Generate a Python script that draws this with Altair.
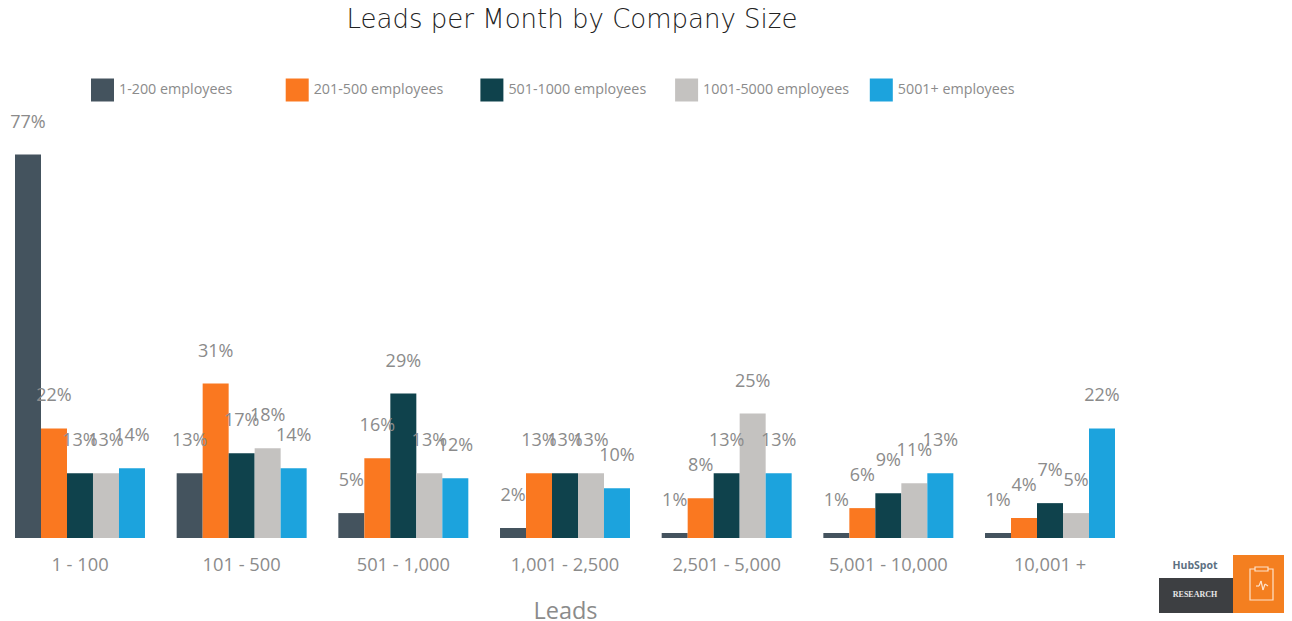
import altair as alt
import pandas as pd

categories = ["1 - 100", "101 - 500", "501 - 1,000", "1,001 - 2,500", "2,501 - 5,000", "5,001 - 10,000", "10,001 +"]
sizes = ["1-200 employees", "201-500 employees", "501-1000 employees", "1001-5000 employees", "5001+ employees"]
colors = ["#44535e", "#fa7820", "#0f424c", "#c4c2c0", "#1ca3dd"]
s1 = [77, 13, 5, 2, 1, 1, 1]
s2 = [22, 31, 16, 13, 8, 6, 4]
s3 = [13, 17, 29, 13, 13, 9, 7]
s4 = [13, 18, 13, 13, 25, 11, 5]
s5 = [14, 14, 12, 10, 13, 13, 22]

rows = []
for name, vals in zip(sizes, [s1, s2, s3, s4, s5]):
    for c, v in zip(categories, vals):
        rows.append({"Leads": c, "Size": name, "Pct": v, "Label": f"{v}%"})
df = pd.DataFrame(rows)

FONT = "Open Sans"
GRAY = "#8b8b8b"
OX, OY = 8, 38   # plot origin on the page
W, H = 1276, 500

x = alt.X("Leads:N", sort=categories,
          scale=alt.Scale(range=[7, 1107], paddingInner=0.196, paddingOuter=0),
          axis=alt.Axis(title="Leads", domain=False, ticks=False, labelAngle=0, labelFont=FONT,
                        labelFontSize=18.3, labelColor=GRAY, labelPadding=18,
                        titleFont=FONT, titleFontSize=23.5, titleFontWeight="normal",
                        titleColor=GRAY, titlePadding=26))
xo = alt.XOffset("Size:N", sort=sizes)
y = alt.Y("Pct:Q", scale=alt.Scale(domain=[0, H / 4.98], nice=False), axis=None)

bars = alt.Chart(df).mark_bar(cornerRadius=0).encode(
    x=x, xOffset=xo, y=y,
    color=alt.Color("Size:N", sort=sizes,
                    scale=alt.Scale(domain=sizes, range=colors),
                    legend=alt.Legend(title=None, orient="none", legendX=83, legendY=40.5,
                                      columns=5, gridAlign="all", columnPadding=20.7,
                                      symbolType="square", symbolSize=529, symbolStrokeWidth=0,
                                      symbolOpacity=1, labelFont=FONT, labelFontSize=14.3,
                                      labelColor=GRAY, labelOffset=5, labelLimit=200)),
)
labels = alt.Chart(df).mark_text(font=FONT, fontSize=18, color=GRAY, baseline="middle", dy=-32).encode(
    x=x, xOffset=xo, y=y, text="Label:N",
)

one = pd.DataFrame({"k": [0]})

def box(x0, x1, y0, y1, **kw):
    return alt.Chart(one).mark_rect(**kw).encode(
        x=alt.value(x0 - OX), x2=alt.value(x1 - OX), y=alt.value(y0 - OY), y2=alt.value(y1 - OY))

def seg(x0, y0, x1, y1):
    return alt.Chart(one).mark_rule(color="#fde3cc", strokeWidth=1.2).encode(
        x=alt.value(x0 - OX), x2=alt.value(x1 - OX), y=alt.value(y0 - OY), y2=alt.value(y1 - OY))

def word(t, px, py, **kw):
    return alt.Chart(one).mark_text(text=t, align="center", baseline="middle", **kw).encode(
        x=alt.value(px - OX), y=alt.value(py - OY))

logo = [
    box(1233, 1290, 555, 613, color="#f47f20"),
    box(1159, 1233, 578, 613, color="#3d3f42"),
    box(1250, 1273, 569, 600, fill="transparent", stroke="#fde3cc", strokeWidth=1.2),
    box(1255, 1268, 567, 571, color="#f47f20", stroke="#fde3cc", strokeWidth=1.2),
    seg(1256, 586, 1259, 586), seg(1259, 586, 1261, 581), seg(1261, 581, 1263, 590),
    seg(1263, 590, 1265, 584), seg(1265, 584, 1268, 586),
    word("HubSpot", 1195, 566, font="Open Sans", fontSize=10.5, fontWeight="bold", color="#5d7082"),
    word("RESEARCH", 1195, 595, font="Liberation Serif", fontSize=8, fontWeight="bold", color="#e8e8e8"),
]

chart = alt.layer(bars, labels, *logo).properties(
    width=W, height=H,
    autosize=alt.AutoSizeParams(type="none"),
    padding={"left": 0, "top": 30, "right": 0, "bottom": 92},
    title=alt.TitleParams("Leads per Month by Company Size", font="DejaVu Sans", fontSize=26,
                          fontWeight=200, color="#222222", anchor="middle", dx=-74, offset=5),
).configure_view(stroke=None)

chart.save("out.html", embed_options={"renderer": "svg", "actions": False})
